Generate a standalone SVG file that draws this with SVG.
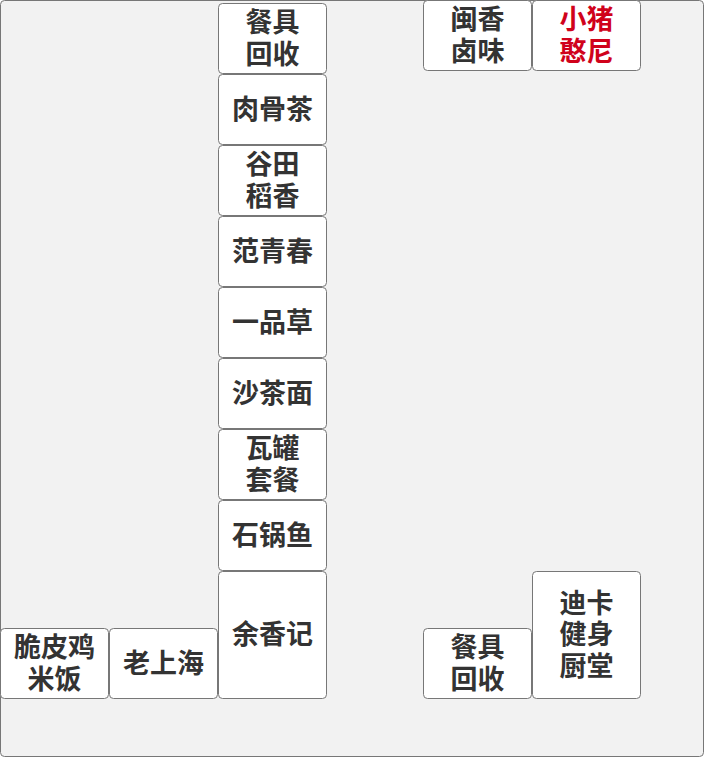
<svg xmlns="http://www.w3.org/2000/svg" width="704" height="757" viewBox="0 0 704 757">
<style>
.bg{fill:#f2f2f2;stroke:#777;stroke-width:1}
.n rect{fill:#fff;stroke:#777;stroke-width:1}
.n text{font-family:"Noto Sans CJK SC","Noto Sans",sans-serif;font-weight:bold;font-size:27px;fill:#333;text-anchor:middle;dominant-baseline:central}
.n text.red{fill:#d0021b}
</style>
<rect class="bg" x="0.5" y="0.5" width="703" height="756" rx="4"/>
<g id="n1" class="n"><rect x="218.5" y="3.5" width="108" height="70" rx="4"/><text x="272.5" y="20">餐具</text><text x="272.5" y="52">回收</text></g>
<g id="n2" class="n"><rect x="218.5" y="74.5" width="108" height="70" rx="4"/><text x="272.5" y="107.5">肉骨茶</text></g>
<g id="n3" class="n"><rect x="218.5" y="145.5" width="108" height="70" rx="4"/><text x="272.5" y="162">谷田</text><text x="272.5" y="194">稻香</text></g>
<g id="n4" class="n"><rect x="218.5" y="216.5" width="108" height="70" rx="4"/><text x="272.5" y="249.5">范青春</text></g>
<g id="n5" class="n"><rect x="218.5" y="287.5" width="108" height="70" rx="4"/><text x="272.5" y="320.5">一品草</text></g>
<g id="n6" class="n"><rect x="218.5" y="358.5" width="108" height="70" rx="4"/><text x="272.5" y="391.5">沙茶面</text></g>
<g id="n7" class="n"><rect x="218.5" y="429.5" width="108" height="70" rx="4"/><text x="272.5" y="446">瓦罐</text><text x="272.5" y="478">套餐</text></g>
<g id="n8" class="n"><rect x="218.5" y="500.5" width="108" height="70" rx="4"/><text x="272.5" y="533.5">石锅鱼</text></g>
<g id="n9" class="n"><rect x="218.5" y="571.5" width="108" height="127" rx="4"/><text x="272.5" y="632.5">余香记</text></g>
<g id="n10" class="n"><rect x="0.5" y="628.5" width="108" height="70" rx="4"/><text x="54.5" y="645">脆皮鸡</text><text x="54.5" y="677">米饭</text></g>
<g id="n11" class="n"><rect x="109.5" y="628.5" width="108" height="70" rx="4"/><text x="163.5" y="661.5">老上海</text></g>
<g id="n12" class="n"><rect x="423.5" y="0.5" width="108" height="70" rx="4"/><text x="477.5" y="17">闽香</text><text x="477.5" y="49">卤味</text></g>
<g id="n13" class="n"><rect x="532.5" y="0.5" width="108" height="70" rx="4"/><text class="red" x="586.5" y="17">小猪</text><text class="red" x="586.5" y="49">憨尼</text></g>
<g id="n14" class="n"><rect x="423.5" y="628.5" width="108" height="70" rx="4"/><text x="477.5" y="645">餐具</text><text x="477.5" y="677">回收</text></g>
<g id="n15" class="n"><rect x="532.5" y="571.5" width="108" height="127" rx="4"/><text x="586.5" y="601">迪卡</text><text x="586.5" y="632.5">健身</text><text x="586.5" y="664">厨堂</text></g>
<g id="connectors"/>
</svg>
